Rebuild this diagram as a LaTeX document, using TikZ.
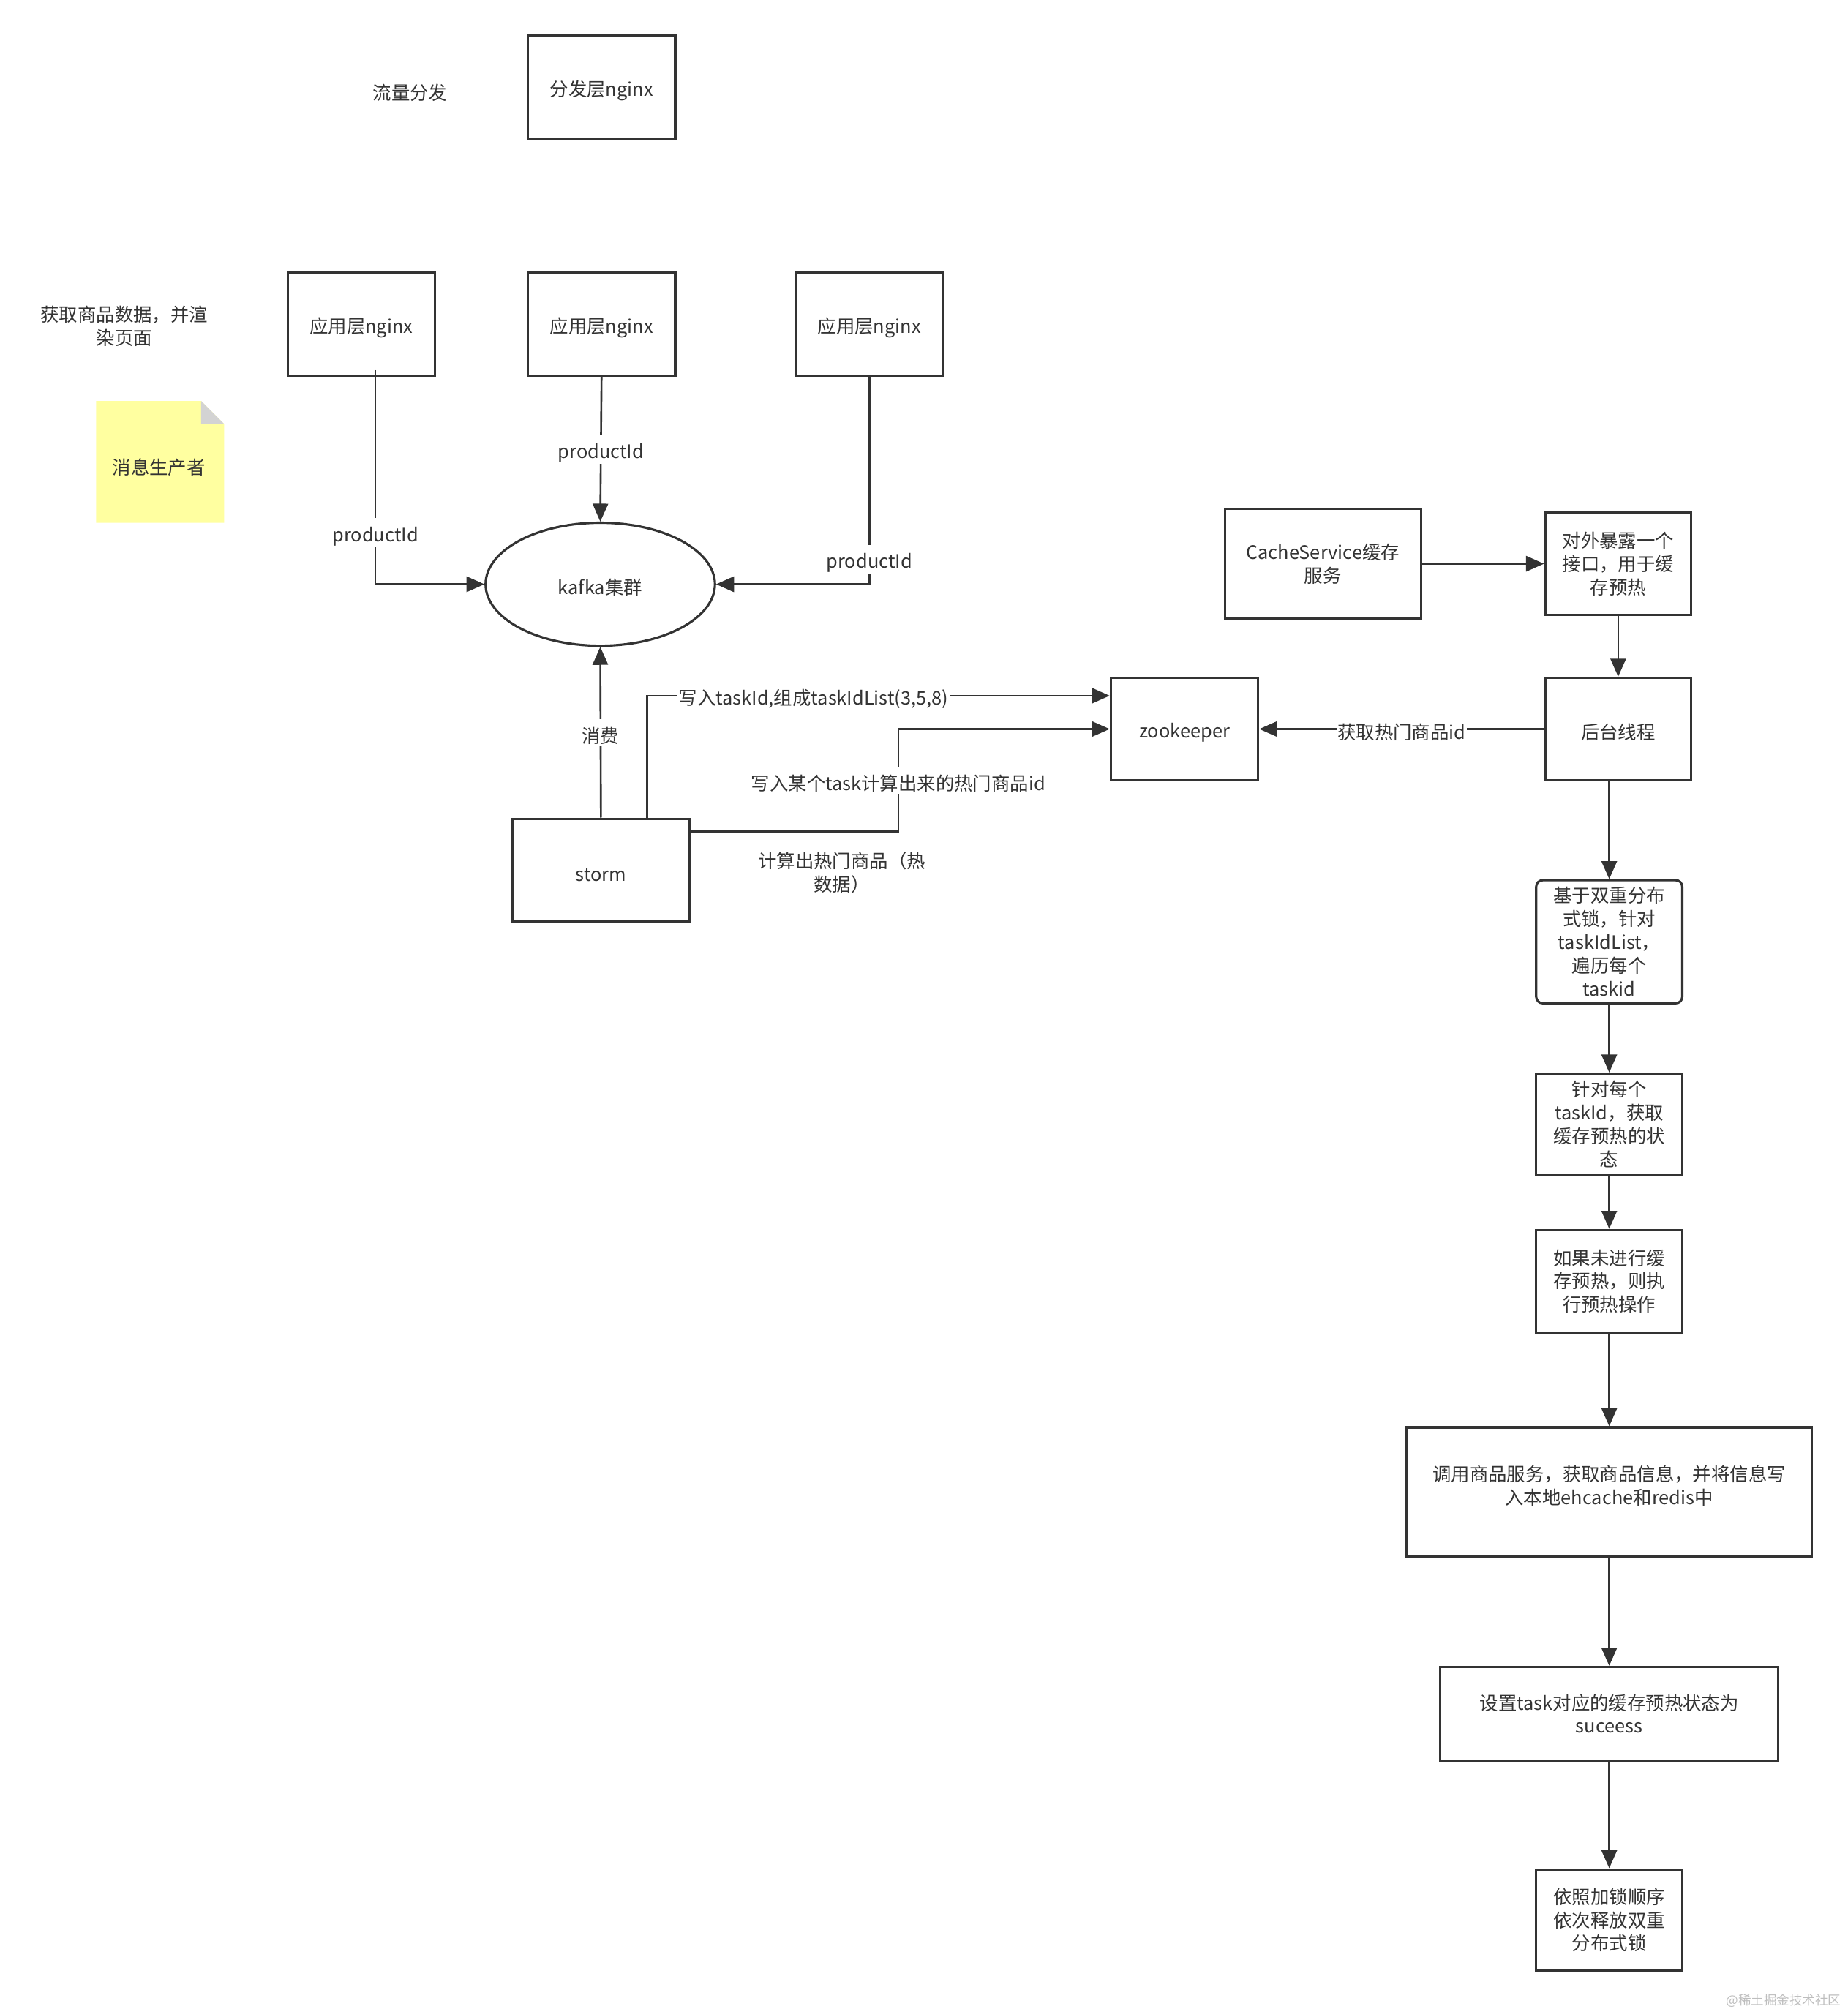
\documentclass[tikz,border=0pt]{standalone}
\usepackage{fontspec}
\setmainfont{Noto Sans CJK SC}
\usepackage{tikz}
\usetikzlibrary{arrows.meta,shapes.geometric}
\usepackage{xcolor}
\definecolor{inkgray}{RGB}{51,51,51}
\definecolor{noteyellow}{RGB}{255,255,160}
\definecolor{foldgray}{RGB}{211,211,211}
\definecolor{markgray}{RGB}{190,190,190}

\begin{document}
\begin{tikzpicture}[x=1pt,y=-1pt,line join=miter,
  every node/.style={font=\fontsize{14.5}{18.2}\selectfont,text=inkgray,align=center,
    execute at begin node={\rule{0pt}{17.5pt}}},
  box/.style={draw=inkgray,line width=1.8pt,fill=white,inner sep=2pt},
  conn/.style={draw=inkgray,line width=1.5pt,-{Triangle[length=14pt,width=12pt]}},
  lbl/.style={fill=white,inner sep=1pt}]
  \fill[white] (0,0) rectangle (1442,1568); \useasboundingbox (0,0) rectangle (1442,1568);
  % left column
  \node (flowlbl) at (320,70) {流量分发};
  \node[box,minimum width=115,minimum height=80] (dist) at (469.5,68) {分发层nginx};
  \node (fetchlbl) at (97,254.5) {获取商品数据，并渲\\染页面};
  \fill[noteyellow] (75,313)--(157,313)--(175,331)--(175,408)--(75,408)--cycle;
  \fill[foldgray] (157,313)--(175,331)--(157,331)--cycle;
  \node (note) at (124,362) {消息生产者};
  \foreach \n/\x in {app1/282,app2/469.5,app3/678.5}
    \node[box,minimum width=115,minimum height=80] (\n) at (\x,253) {应用层nginx};
  \node[draw=inkgray,line width=1.8pt,ellipse,minimum width=179,minimum height=96] (kafka) at (468.5,456) {kafka集群};
  \node[box,minimum width=138,minimum height=80] (storm) at (469,679) {storm};
  \node[box,minimum width=115,minimum height=80] (zk) at (924.5,569) {zookeeper};
  \node (hotlbl) at (657,681) {计算出热门商品（热\\数据）};
  % right column
  \node[box,minimum width=153,minimum height=86] (cache) at (1032.5,440) {CacheService缓存\\服务};
  \node[box,minimum width=114,minimum height=80] (expo) at (1263,440) {对外暴露一个\\接口，用于缓\\存预热};
  \node[box,minimum width=114,minimum height=80] (bg) at (1263,569) {后台线程};
  \node[box,rounded corners=5pt,minimum width=114,minimum height=96] (lock) at (1256,735) {基于双重分布\\式锁，针对\\taskIdList，\\遍历每个\\taskid};
  \node[box,minimum width=114,minimum height=79] (each) at (1256,877.5) {针对每个\\taskId，获取\\缓存预热的状\\态};
  \node[box,minimum width=114,minimum height=80] (check) at (1256,1000) {如果未进行缓\\存预热，则执\\行预热操作};
  \node[box,minimum width=316,minimum height=101] (call) at (1256,1164.5) {};
  \node (calltxt) at ([yshift=5pt]call.center) {调用商品服务，获取商品信息，并将信息写\\入本地ehcache和redis中};
  \node[box,minimum width=264,minimum height=73] (setst) at (1256,1337.5) {设置task对应的缓存预热状态为\\suceess};
  \node[box,minimum width=114,minimum height=79] (release) at (1256,1498.5) {依照加锁顺序\\依次释放双重\\分布式锁};
  \node[text=markgray,font=\fontsize{10}{12}\selectfont] (mark) at (1392,1557) {@稀土掘金技术社区};
  % connectors
  \draw[conn] ([xshift=11pt,yshift=5pt]app1.south) |- node[lbl,pos=0.38]{productId} (kafka.west);
  \draw[conn] (app2.south) -- node[lbl]{productId} (kafka.north);
  \draw[conn] (app3.south) |- node[lbl,pos=0.44]{productId} (kafka.east);
  \draw[conn] (storm.north) -- node[lbl]{消费} (kafka.south);
  \draw[conn] ([xshift=36pt]storm.north) |- node[lbl,pos=0.68]{写入taskId,组成taskIdList(3,5,8)} ([yshift=26pt]zk.west);
  \draw[conn] ([yshift=30pt]storm.east) -| node[lbl,pos=0.75]{写入某个task计算出来的热门商品id} ([xshift=-165pt]zk.west) -- (zk.west);
  \draw[conn] (cache.east) -- (expo.west);
  \draw[conn] (expo.south) -- (bg.north);
  \draw[conn] (bg.west) -- node[lbl]{获取热门商品id} (zk.east);
  \draw[conn] ([xshift=-7pt]bg.south) -- (lock.north);
  \foreach \a/\b in {lock/each,each/check,check/call,call/setst,setst/release}
    \draw[conn] (\a.south) -- (\b.north);
\end{tikzpicture}
\end{document}
